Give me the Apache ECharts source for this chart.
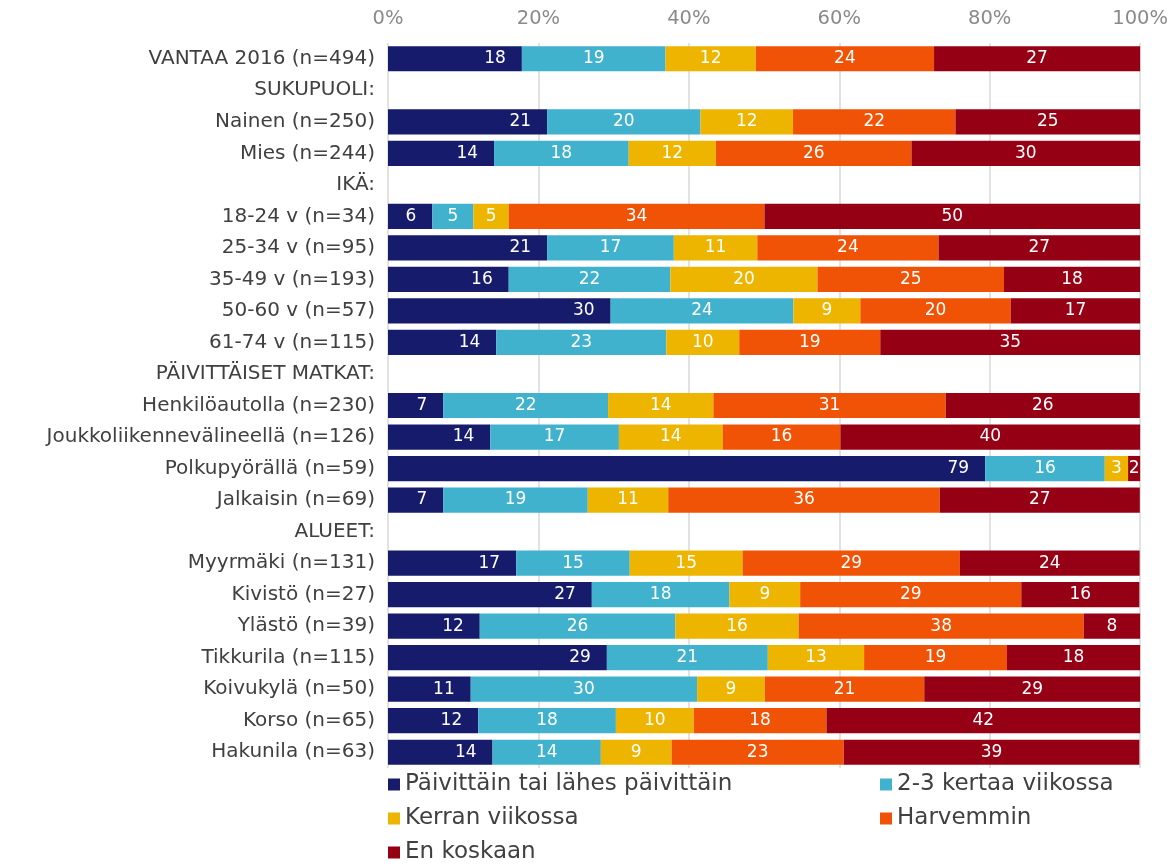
<!DOCTYPE html>
<html>
<head>
<meta charset="utf-8">
<script src="https://cdn.jsdelivr.net/npm/echarts@6/dist/echarts.min.js"></script>
<style>
html,body{margin:0;padding:0;background:#fff;}
#chart{width:1171px;height:864px;}
</style>
</head>
<body>
<div id="chart"></div>
<script>
const categories = [
  'VANTAA 2016 (n=494)', 'SUKUPUOLI:', 'Nainen (n=250)', 'Mies (n=244)', 'IKÄ:',
  '18-24 v (n=34)', '25-34 v (n=95)', '35-49 v (n=193)', '50-60 v (n=57)', '61-74 v (n=115)',
  'PÄIVITTÄISET MATKAT:', 'Henkilöautolla (n=230)', 'Joukkoliikennevälineellä (n=126)',
  'Polkupyörällä (n=59)', 'Jalkaisin (n=69)', 'ALUEET:', 'Myyrmäki (n=131)', 'Kivistö (n=27)',
  'Ylästö (n=39)', 'Tikkurila (n=115)', 'Koivukylä (n=50)', 'Korso (n=65)', 'Hakunila (n=63)'
];
const seriesNames = ['Päivittäin tai lähes päivittäin', '2-3 kertaa viikossa', 'Kerran viikossa', 'Harvemmin', 'En koskaan'];
const paivittain = [17.8, '-', 21.15, 14.1, '-', 5.9, 21.15, 16.05, 29.6, 14.4, '-', 7.36, 13.6, 79.4, 7.36, '-', 17.04, 27.1, 12.2, 29.1, 11.0, 12.0, 13.9];
const kertaa23   = [19.1, '-', 20.4, 17.9, '-', 5.45, 16.85, 21.5, 24.3, 22.6, '-', 21.9, 17.1, 15.9, 19.2, '-', 15.1, 18.3, 26.0, 21.4, 30.1, 18.3, 14.4];
const kerran     = [12.0, '-', 12.3, 11.6, '-', 4.7, 11.1, 19.55, 8.9, 9.7, '-', 14.0, 13.8, 3.1, 10.7, '-', 15.0, 9.4, 16.4, 12.8, 9.0, 10.35, 9.4];
const harvemmin  = [23.7, '-', 21.6, 26.0, '-', 34.0, 24.1, 24.8, 20.0, 18.75, '-', 30.9, 15.65, 0, 36.1, '-', 28.9, 29.4, 37.9, 19.0, 21.2, 17.65, 22.9];
const enKoskaan  = [27.4, '-', 24.55, 30.4, '-', 49.95, 26.8, 18.1, 17.2, 34.55, '-', 25.8, 39.85, 1.6, 26.6, '-', 23.9, 15.7, 7.5, 17.7, 28.7, 41.7, 39.3];
const xTicks = [0, 20, 40, 60, 80, 100];
const colors = ['#161C6B', '#41B2CE', '#EEB500', '#F15306', '#960015'];
const allData = [paivittain, kertaa23, kerran, harvemmin, enKoskaan];

const FONT = 'DejaVu Sans';
const chart = echarts.init(document.getElementById('chart'));
const series = seriesNames.map((name, i) => ({
  name: name,
  type: 'bar',
  stack: 'total',
  data: allData[i],
  barCategoryGap: '20%',
  itemStyle: { color: colors[i] },
  label: {
    show: true,
    position: i === 0 ? 'insideRight' : 'inside',
    distance: 16,
    color: '#ffffff',
    fontSize: 17,
    fontFamily: FONT,
    formatter: p => (p.value === '-' || p.value === 0) ? '' : String(Math.round(p.value))
  }
}));

// legend layout: [series index, left, top]
const legendPos = [[0, 388, 773], [1, 880, 773], [2, 388, 807], [3, 880, 807], [4, 388, 841]];
const legends = legendPos.map(([idx, l, t]) => ({
  data: [seriesNames[idx]],
  orient: 'horizontal', left: l, top: t, padding: 0,
  icon: 'rect', itemWidth: 12, itemHeight: 12,
  textStyle: { color: '#404040', fontSize: 23, fontFamily: FONT }
}));

chart.setOption({
  animation: false,
  backgroundColor: '#ffffff',
  grid: { left: 388, right: 28, top: 43, height: 725 },
  xAxis: {
    type: 'value',
    position: 'top',
    min: xTicks[0],
    max: xTicks[xTicks.length - 1],
    interval: 20,
    axisLine: { show: false },
    axisTick: { show: false },
    axisLabel: { formatter: '{value}%', color: '#8a8a8a', fontSize: 19.5, fontFamily: FONT, margin: 14 },
    splitLine: { show: true, lineStyle: { color: '#d9d9d9', width: 1.5 } }
  },
  yAxis: {
    type: 'category',
    data: categories,
    inverse: true,
    axisLine: { show: false },
    axisTick: { show: false },
    axisLabel: { color: '#404040', fontSize: 20, fontFamily: FONT, margin: 13 }
  },
  legend: legends,
  series: series
});
</script>
</body>
</html>
